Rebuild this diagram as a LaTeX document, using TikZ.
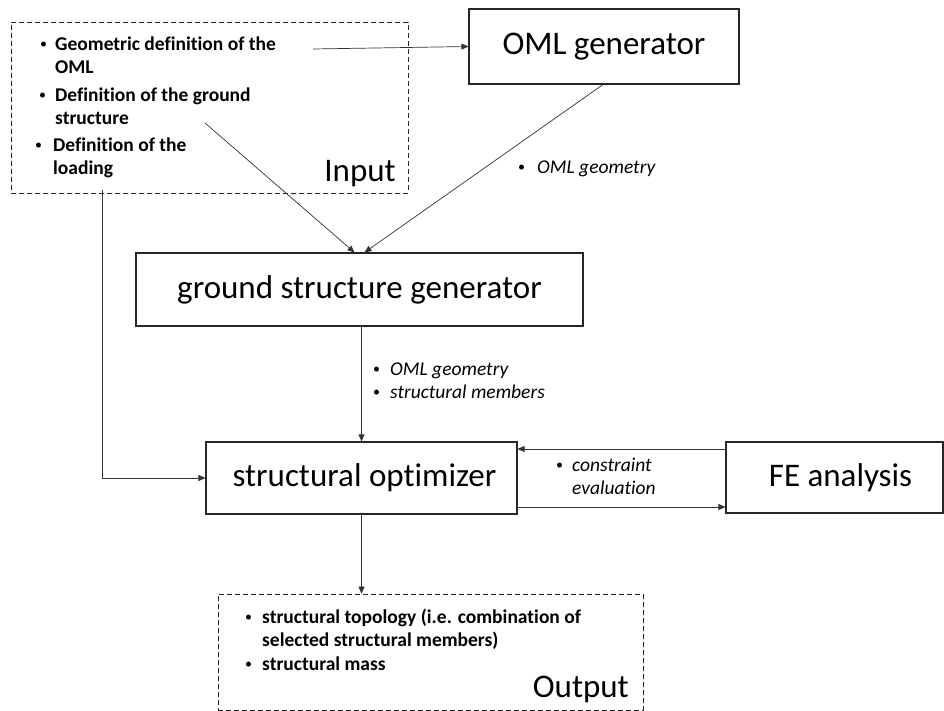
\documentclass[tikz,border=0pt]{standalone}
\usepackage{fontspec}
\setmainfont{Carlito}[Ligatures=NoCommon]
\usetikzlibrary{arrows.meta}

\begin{document}
\begin{tikzpicture}[x=1pt,y=-1pt,
  box/.style={draw=black!85, line width=1.1pt, inner sep=0pt,
    font=\fontsize{33}{40}\selectfont},
  frame/.style={draw=black!85, line width=0.9pt, dash pattern=on 5pt off 3pt, inner sep=0pt},
  link/.style={draw=black!80, line width=0.7pt, -{Triangle[length=7pt,width=6pt]}},
  small/.style={anchor=base west, inner sep=0pt, font=\fontsize{19.5}{23}\selectfont},
  dotmark/.style={anchor=base west, inner sep=0pt, font=\fontsize{14}{16}\selectfont},
  bolditem/.style={small, font=\fontsize{19.5}{23}\selectfont\bfseries},
  italitem/.style={small, font=\fontsize{19.5}{23}\selectfont\itshape},
  biglabel/.style={anchor=base east, inner sep=0pt, font=\fontsize{33}{40}\selectfont}
]
\useasboundingbox (0,0) rectangle (944,711);
\newcommand{\dotglyph}{\raisebox{2pt}{\textbullet}}

% dashed input and output frames
\node[frame, minimum width=397pt, minimum height=171pt] (inp) at (209.5,107.5) {};
\node[frame, minimum width=425pt, minimum height=116pt] (out) at (430.5,652) {};

% process boxes
\node[box, minimum width=270pt, minimum height=75pt] (oml) at (604,46.5) {OML generator};
\node[box, minimum width=447pt, minimum height=73pt] (gsg) at (359.5,289.5) {ground structure generator};
\node[box, minimum width=311pt, minimum height=72pt] (opt) at (361.5,478) {\hspace*{6pt}structural optimizer};
\node[box, minimum width=217pt, minimum height=71pt] (fe) at (834.5,477.5) {\hspace*{12pt}FE analysis};

% input items
\node[dotmark] (ib1) at (40,51) {\dotglyph};
\node[bolditem] (in1) at (55,51) {\begin{tabular}[t]{@{}l@{}}Geometric definition of the\\OML\end{tabular}};
\node[dotmark] (ib2) at (39,102) {\dotglyph};
\node[bolditem] (in2) at (55,102) {\begin{tabular}[t]{@{}l@{}}Definition of the ground\\structure\end{tabular}};
\node[dotmark] (ib3) at (35,152) {\dotglyph};
\node[bolditem] (in3) at (53,152) {\begin{tabular}[t]{@{}l@{}}Definition of the\\loading\end{tabular}};
\node[biglabel] (inlabel) at (396,182) {Input};

% output items
\node[dotmark] (ob1) at (245,623) {\dotglyph};
\node[bolditem] (out1) at (262,623) {\begin{tabular}[t]{@{}l@{}}structural topology (i.e. combination of\\selected structural members)\end{tabular}};
\node[dotmark] (ob2) at (245,670) {\dotglyph};
\node[bolditem] (out2) at (262,670) {structural mass};
\node[biglabel] (outlabel) at (629,697) {Output};

% connector labels
\node[dotmark] (lb1) at (518,174) {\dotglyph};
\node[italitem] (lab1) at (537,174) {OML geometry};
\node[dotmark] (lb2) at (373,375) {\dotglyph};
\node[italitem] (lab2) at (390,375) {\begin{tabular}[t]{@{}l@{}}OML geometry\\structural members\end{tabular}};
\node[dotmark] (lb3) at (373,398) {\dotglyph};
\node[dotmark] (lb4) at (556,471) {\dotglyph};
\node[italitem] (lab4) at (572,471) {\begin{tabular}[t]{@{}l@{}}constraint\\evaluation\end{tabular}};

% connector start points inside the input frame
\coordinate (geoend) at (313,49);
\coordinate (gsend) at (205,123);
\coordinate (loadend) at (102,190);

% connectors
\draw[link] (geoend) -- (oml.west);
\draw[link] (gsend) -- ([xshift=-5pt]gsg.north);
\draw[link] ([xshift=-1pt]oml.south) -- ([xshift=5pt]gsg.north);
\draw[link] (gsg.south -| opt.north) -- (opt.north);
\draw[link] (loadend) |- (opt.west);
\draw[link] ([yshift=28.5pt]fe.west) -- ([yshift=28.5pt]fe.west -| opt.east);
\draw[link] ([yshift=-29pt]opt.east) -- ([yshift=-29pt]opt.east -| fe.west);
\draw[link] (opt.south) -- (opt.south |- out.north);
\end{tikzpicture}
\end{document}
